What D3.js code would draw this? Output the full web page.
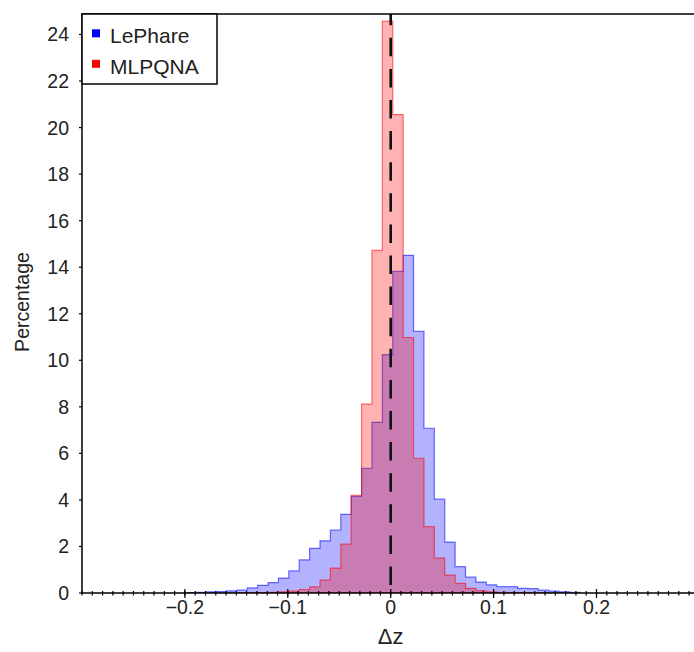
<!DOCTYPE html>
<html>
<head>
<meta charset="utf-8">
<script src="https://cdn.jsdelivr.net/npm/d3@7"></script>
<style>
  body { margin: 0; background: #fff; }
  text { font-family: "Liberation Sans", Arial, sans-serif; fill: #222; }
</style>
</head>
<body>
<svg width="694" height="652"></svg>
<script>
// histogram bins: first left edge and width (delta z)
const binStart = -0.2;
const binWidth = 0.0101;

// percentage per bin, 38 bins from -0.2 upward
const lephare = [0.02, 0.03, 0.05, 0.06, 0.09, 0.12, 0.22, 0.33, 0.45, 0.64,
                 0.95, 1.42, 1.92, 2.24, 2.70, 3.38, 4.15, 5.36, 7.33, 10.24,
                 13.82, 14.51, 11.24, 7.08, 4.03, 2.19, 1.13, 0.68, 0.47, 0.35,
                 0.27, 0.27, 0.20, 0.19, 0.12, 0.08, 0.05, 0.03];
const mlpqna = [0, 0, 0, 0, 0, 0.01, 0.01, 0.02, 0.03, 0.05,
                0.08, 0.15, 0.26, 0.55, 1.07, 2.10, 4.20, 8.12, 14.72, 24.57,
                20.56, 10.98, 5.79, 2.85, 1.50, 0.77, 0.41, 0.20, 0.10, 0.05,
                0.03, 0.02, 0.01, 0.01, 0, 0, 0, 0];

const series = [
    { name: 'LePhare', values: lephare, color: '0,0,255', key: 'blue' },
    { name: 'MLPQNA', values: mlpqna, color: '255,0,0', key: 'red' }
];

const xTicks = [-0.2, -0.1, 0, 0.1, 0.2];
const yTicks = d3.range(0, 25, 2);

const plotLeft = 82, plotTop = 14, plotBottom = 593;
const svg = d3.select('svg');

const x = d3.scaleLinear().domain([-0.3, 0.3]).range([plotLeft, 699.4]);
const y = d3.scaleLinear().domain([0, 24.88]).range([plotBottom, plotTop]);

svg.append('clipPath').attr('id', 'plot')
    .append('rect')
    .attr('x', plotLeft).attr('y', plotTop)
    .attr('width', 700 - plotLeft).attr('height', plotBottom - plotTop);

const plot = svg.append('g').attr('clip-path', 'url(#plot)');

const line = d3.line().x(d => x(d[0])).y(d => y(d[1]));

// stepfilled outlines
series.forEach(s => {
    const pts = [[binStart, 0]];
    s.values.forEach((v, i) => {
        const l = binStart + i * binWidth;
        pts.push([l, v], [l + binWidth, v]);
    });
    pts.push([binStart + s.values.length * binWidth, 0]);

    plot.append('path')
        .attr('d', line(pts) + 'Z')
        .attr('fill', 'rgba(' + s.color + ',0.3)')
        .attr('stroke', 'rgba(' + s.color + ',0.55)')
        .attr('stroke-width', 1.2)
        .attr('stroke-linejoin', 'miter');
});

// dashed line at zero
plot.append('line')
    .attr('x1', x(0)).attr('x2', x(0))
    .attr('y1', plotBottom).attr('y2', plotTop)
    .attr('stroke', '#111')
    .attr('stroke-width', 2.6)
    .attr('stroke-dasharray', '18.5,12.6')
    .attr('stroke-dashoffset', 23.1);

// spines
svg.append('line')
    .attr('x1', plotLeft).attr('x2', plotLeft).attr('y1', plotTop - 0.75).attr('y2', plotBottom + 0.75)
    .attr('stroke', '#000').attr('stroke-width', 1.5);
svg.append('line')
    .attr('x1', plotLeft).attr('x2', 700).attr('y1', plotTop).attr('y2', plotTop)
    .attr('stroke', '#000').attr('stroke-width', 1.5);
svg.append('line')
    .attr('x1', plotLeft).attr('x2', 700).attr('y1', plotBottom).attr('y2', plotBottom)
    .attr('stroke', '#000').attr('stroke-width', 1.5);

// x minor ticks
const minor = d3.range(-30, 31).map(i => i / 100);
svg.append('g').selectAll('line')
    .data(minor)
    .join('line')
    .attr('x1', d => x(d)).attr('x2', d => x(d))
    .attr('y1', plotBottom - 2).attr('y2', plotBottom + 2.5)
    .attr('stroke', '#000').attr('stroke-width', 1.2);

// x major ticks and labels
svg.append('g').selectAll('line')
    .data(xTicks)
    .join('line')
    .attr('x1', d => x(d)).attr('x2', d => x(d))
    .attr('y1', plotBottom - 4).attr('y2', plotBottom + 5)
    .attr('stroke', '#000').attr('stroke-width', 1.2);

svg.append('g').selectAll('text')
    .data(xTicks)
    .join('text')
    .attr('x', d => x(d))
    .attr('y', 614)
    .attr('text-anchor', 'middle')
    .style('font-size', '19.5px')
    .text(d => d == 0 ? '0' : d3.format('.1f')(d).replace('-', '\u2212'));

// y ticks and labels
svg.append('g').selectAll('line')
    .data(yTicks)
    .join('line')
    .attr('x1', plotLeft - 3).attr('x2', plotLeft)
    .attr('y1', d => y(d)).attr('y2', d => y(d))
    .attr('stroke', '#000').attr('stroke-width', 1.2);

svg.append('g').selectAll('text')
    .data(yTicks)
    .join('text')
    .attr('x', 69)
    .attr('y', d => y(d) + 7)
    .attr('text-anchor', 'end')
    .style('font-size', '19.5px')
    .text(d => d);

// axis labels
svg.append('text')
    .attr('x', x(0))
    .attr('y', 644)
    .attr('text-anchor', 'middle')
    .style('font-size', '22px')
    .text('\u0394z');

svg.append('text')
    .attr('transform', 'translate(29,302) rotate(-90)')
    .attr('text-anchor', 'middle')
    .style('font-size', '19.5px')
    .text('Percentage');

// legend
const legend = svg.append('g');
legend.append('rect')
    .attr('x', plotLeft).attr('y', plotTop)
    .attr('width', 135).attr('height', 70)
    .attr('fill', '#fff')
    .attr('stroke', '#000').attr('stroke-width', 1.5);

series.forEach((s, i) => {
    const cy = 33.3 + i * 30.5;
    legend.append('rect')
        .attr('x', 92).attr('y', cy - 4)
        .attr('width', 8).attr('height', 8)
        .attr('fill', s.key);
    legend.append('text')
        .attr('x', 110).attr('y', cy + 10)
        .style('font-size', '21px')
        .text(s.name);
});
</script>
</body>
</html>
